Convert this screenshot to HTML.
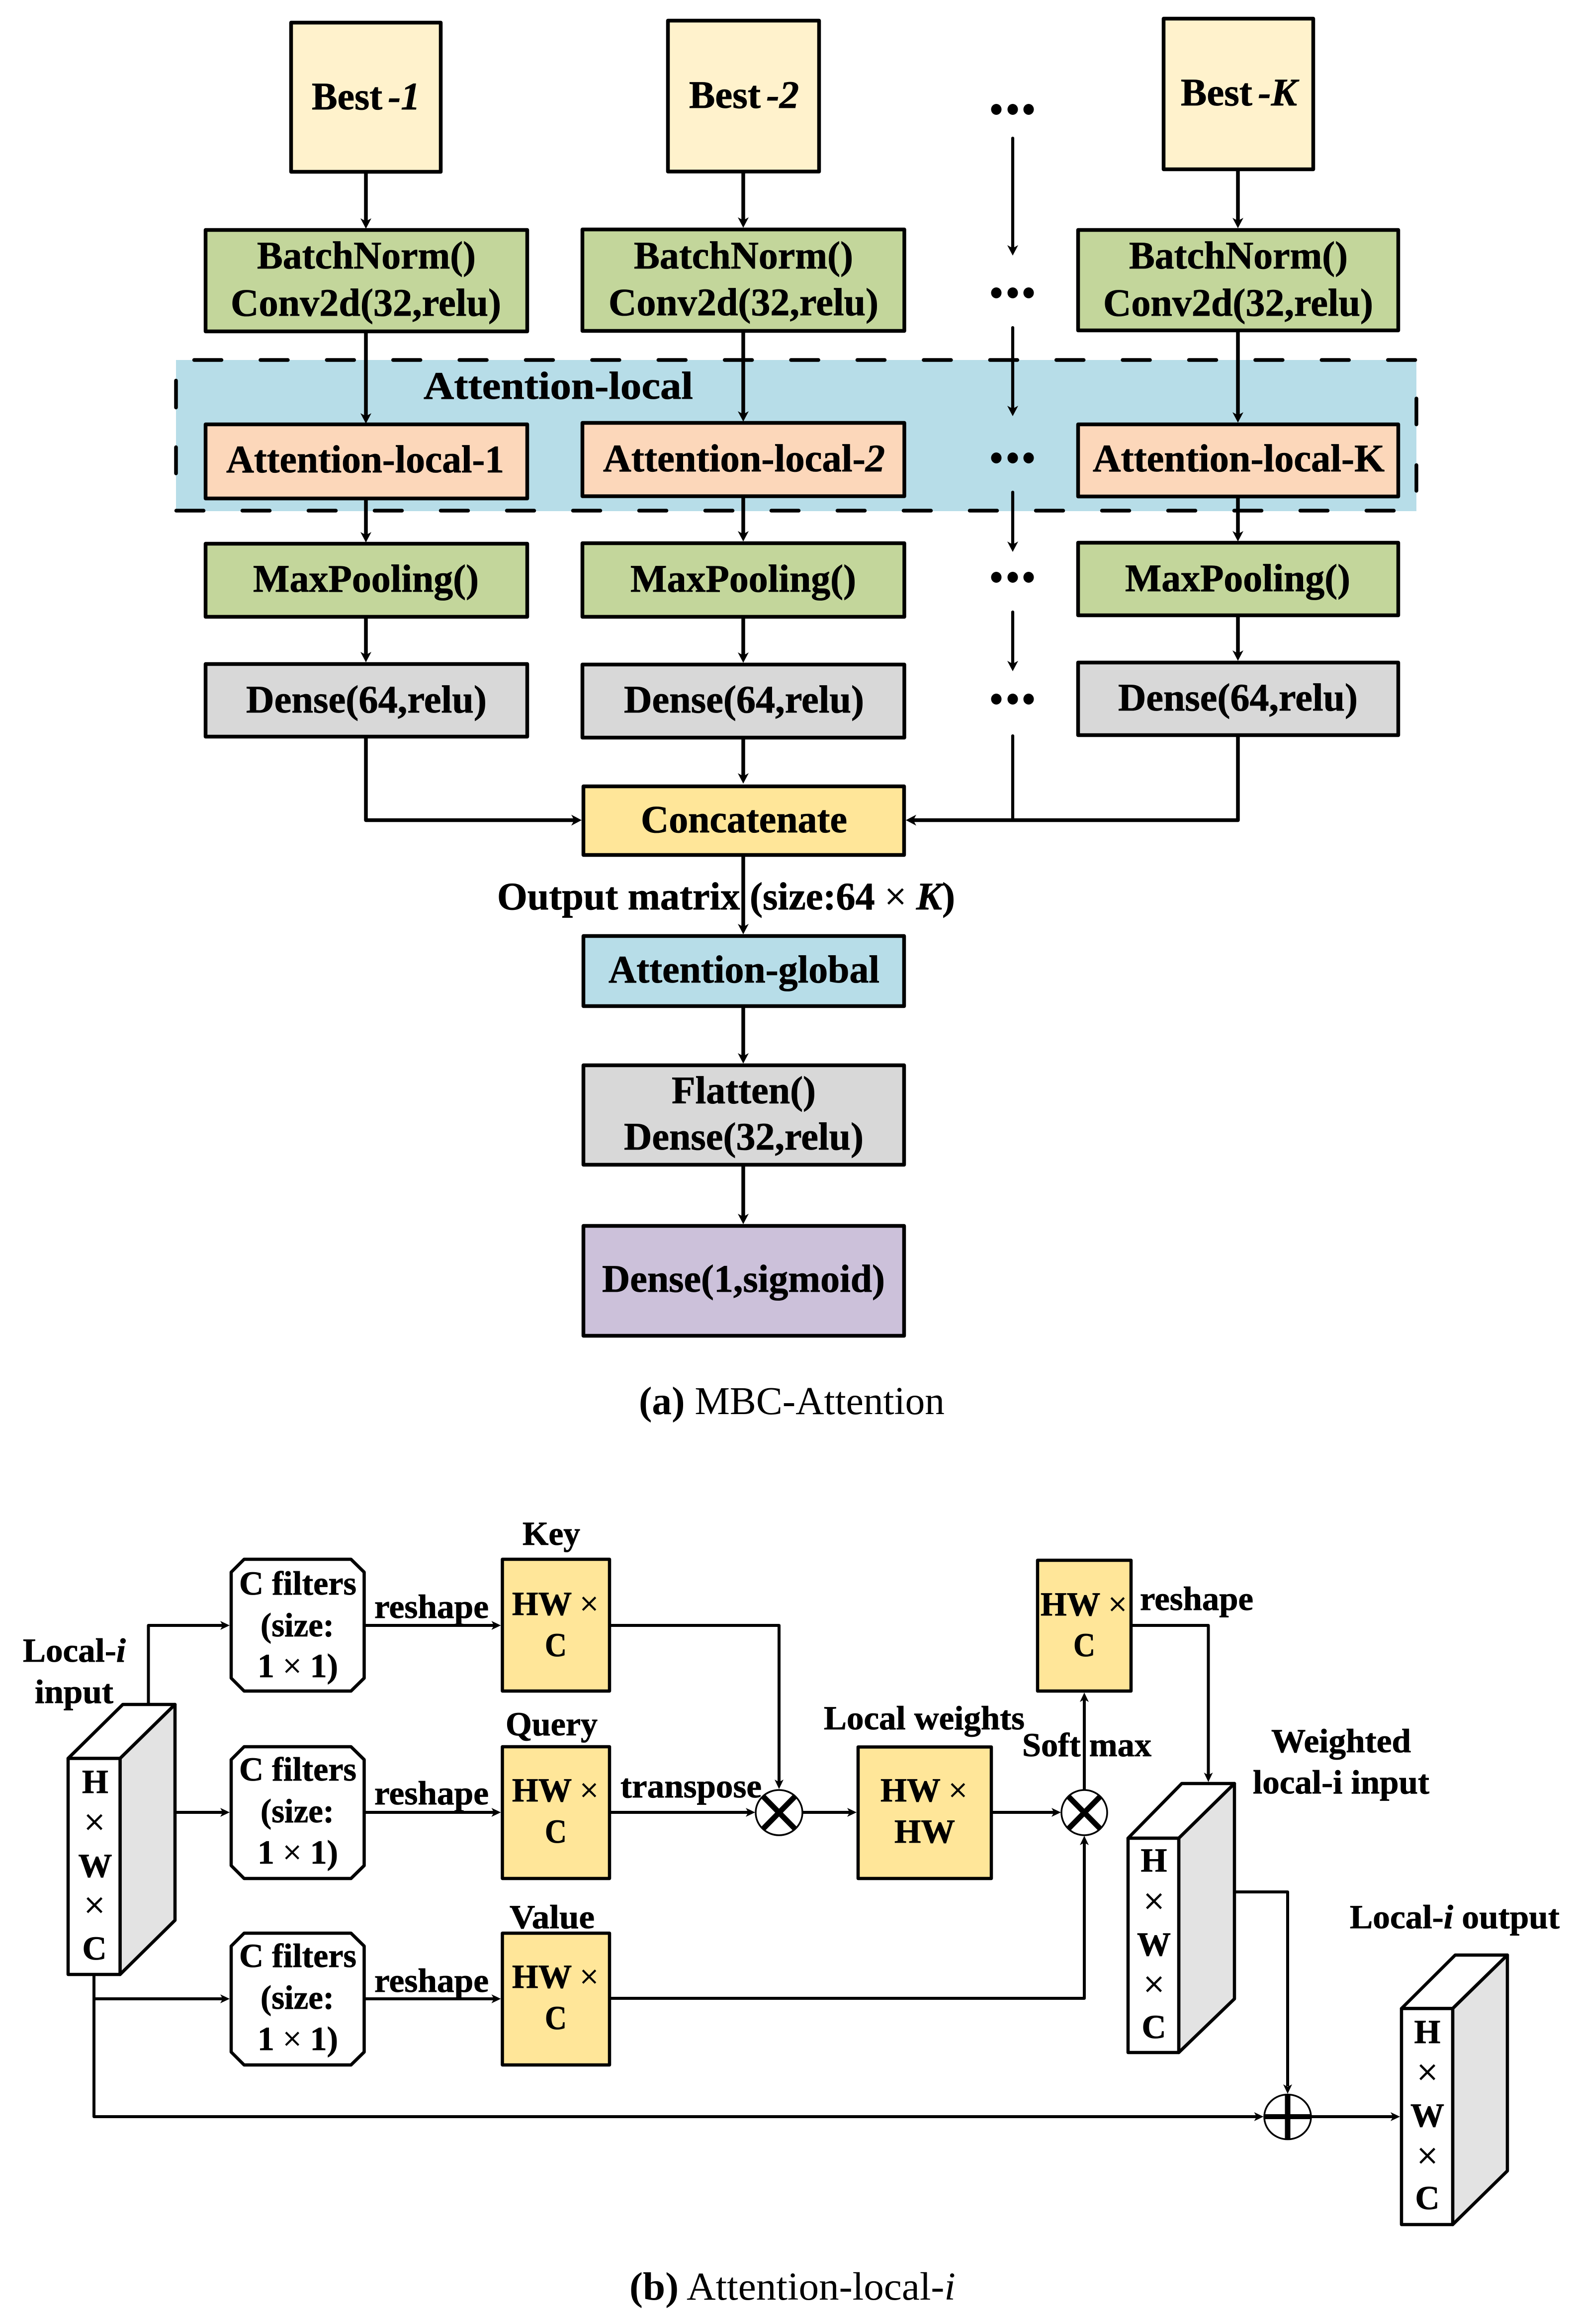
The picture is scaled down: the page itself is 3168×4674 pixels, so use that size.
<!DOCTYPE html>
<html><head><meta charset="utf-8"><title>MBC-Attention diagram</title>
<style>
html,body{margin:0;padding:0;background:#fff}
svg{display:block}
text{font-family:"Liberation Serif",serif;font-weight:bold;fill:#000;stroke:#000;stroke-width:.8}
.a{font-size:78px}.b{font-size:68px}.c{font-size:79px;font-weight:normal;stroke:none}
.n{font-weight:normal}.i{font-style:italic}
.x{font-weight:normal;font-size:76px}
.bx{stroke:#000;stroke-width:7.5;stroke-linejoin:round}
.by{stroke:#000;stroke-width:6.5;stroke-linejoin:round}
.l{fill:none;stroke:#000;stroke-width:7.5;stroke-linejoin:round}
.m{fill:none;stroke:#000;stroke-width:6;stroke-linejoin:round}
.d{fill:none;stroke:#000;stroke-width:7.5;stroke-linecap:round}
</style></head><body>
<svg xmlns="http://www.w3.org/2000/svg" width="3168" height="4674" viewBox="0 0 3168 4674">
<defs>
<polygon id="h" points="0,0 -11,-21 0,-15 11,-21"/>
<polygon id="s" points="0,0 -9,-19 0,-14 9,-19"/>
</defs>
<rect width="3168" height="4674" fill="#fff"/>

<!-- band -->
<rect x="354" y="724" width="2495" height="304" fill="#b7dde8"/>

<!-- part a connectors -->
<path class="l" d="M736,349V445M736,668V838M736,1005V1077M736,1244V1318M736,1485V1649.5H1156"/>
<path class="l" d="M1495,348V444M1495,669V833M1495,1001V1075M1495,1244V1319M1495,1487V1562"/>
<path class="l" d="M2490,344V445M2490,668V836M2490,1002V1075M2490,1241V1315M2490,1482V1649.5H1836"/>
<path class="l" d="M1495,1723V1865M1495,2027V2125M1495,2346V2448"/>
<g transform="translate(736,460)"><use href="#h"/></g>
<g transform="translate(736,852)"><use href="#h"/></g>
<g transform="translate(736,1091)"><use href="#h"/></g>
<g transform="translate(736,1332)"><use href="#h"/></g>
<g transform="translate(1170,1649.5) rotate(-90)"><use href="#h"/></g>
<g transform="translate(1495,458)"><use href="#h"/></g>
<g transform="translate(1495,848)"><use href="#h"/></g>
<g transform="translate(1495,1089)"><use href="#h"/></g>
<g transform="translate(1495,1333)"><use href="#h"/></g>
<g transform="translate(1495,1576)"><use href="#h"/></g>
<g transform="translate(2490,459)"><use href="#h"/></g>
<g transform="translate(2490,850)"><use href="#h"/></g>
<g transform="translate(2490,1089)"><use href="#h"/></g>
<g transform="translate(2490,1329)"><use href="#h"/></g>
<g transform="translate(1822,1649.5) rotate(90)"><use href="#h"/></g>
<g transform="translate(1495,1879)"><use href="#h"/></g>
<g transform="translate(1495,2139)"><use href="#h"/></g>
<g transform="translate(1495,2462)"><use href="#h"/></g>

<!-- dots column -->
<path d="M2037,278V500M2037,659V823M2037,990V1096M2037,1231V1335M2037,1480V1649" fill="none" stroke="#000" stroke-width="6.2" stroke-linecap="round"/>
<g transform="translate(2037,514)"><use href="#h"/></g>
<g transform="translate(2037,837)"><use href="#h"/></g>
<g transform="translate(2037,1110)"><use href="#h"/></g>
<g transform="translate(2037,1350)"><use href="#h"/></g>
<g fill="#000">
<ellipse cx="2004" cy="220" rx="10.5" ry="11"/><ellipse cx="2037" cy="220" rx="10.5" ry="11"/><ellipse cx="2069" cy="220" rx="10.5" ry="11"/>
<ellipse cx="2004" cy="589" rx="10.5" ry="11"/><ellipse cx="2037" cy="589" rx="10.5" ry="11"/><ellipse cx="2069" cy="589" rx="10.5" ry="11"/>
<ellipse cx="2004" cy="921" rx="10.5" ry="11"/><ellipse cx="2037" cy="921" rx="10.5" ry="11"/><ellipse cx="2069" cy="921" rx="10.5" ry="11"/>
<ellipse cx="2004" cy="1161" rx="10.5" ry="11"/><ellipse cx="2037" cy="1161" rx="10.5" ry="11"/><ellipse cx="2069" cy="1161" rx="10.5" ry="11"/>
<ellipse cx="2004" cy="1406" rx="10.5" ry="11"/><ellipse cx="2037" cy="1406" rx="10.5" ry="11"/><ellipse cx="2069" cy="1406" rx="10.5" ry="11"/>
</g>

<!-- dashed border -->
<path class="d" stroke-dasharray="55 78.4" d="M390.5,724H2850"/>
<path class="d" stroke-dasharray="55 78" d="M354.5,1027H2812"/>
<path class="d" stroke-dasharray="54 80" d="M354,765.5V952"/>
<path class="d" stroke-dasharray="52 82" d="M2849,801.5V987"/>

<!-- part a boxes -->
<g class="bx">
<rect x="585.5" y="45.5" width="301" height="300" fill="#fff2cc"/>
<rect x="1343.5" y="41.5" width="304" height="303.5" fill="#fff2cc"/>
<rect x="2340.5" y="37.5" width="301" height="303" fill="#fff2cc"/>
<rect x="413.5" y="462.5" width="647" height="204" fill="#c3d69b"/>
<rect x="1171.5" y="461.5" width="647.5" height="204" fill="#c3d69b"/>
<rect x="2168.5" y="462.5" width="644" height="202" fill="#c3d69b"/>
<rect x="413.5" y="853.5" width="647" height="149" fill="#fcd7ba"/>
<rect x="1171.5" y="850.5" width="647.5" height="147.5" fill="#fcd7ba"/>
<rect x="2168.5" y="853.5" width="644" height="145" fill="#fcd7ba"/>
<rect x="413.5" y="1093.5" width="647" height="147" fill="#c3d69b"/>
<rect x="1171.5" y="1092.5" width="647.5" height="148" fill="#c3d69b"/>
<rect x="2168.5" y="1091.5" width="644" height="146" fill="#c3d69b"/>
<rect x="413.5" y="1335.5" width="647" height="146" fill="#d8d8d8"/>
<rect x="1171.5" y="1336.5" width="647.5" height="147" fill="#d8d8d8"/>
<rect x="2168.5" y="1332.5" width="644" height="146" fill="#d8d8d8"/>
<rect x="1173.5" y="1581.5" width="645" height="138" fill="#ffe699"/>
<rect x="1173.5" y="1882.5" width="645" height="141" fill="#b7dde8"/>
<rect x="1173.5" y="2142.5" width="645" height="200" fill="#d8d8d8"/>
<rect x="1173.5" y="2465.5" width="645" height="221" fill="#ccc1da"/>
</g>

<!-- part a text -->
<g class="a" style="font-size:78px">
<text x="627" y="220" textLength="218" lengthAdjust="spacingAndGlyphs">Best <tspan class="i" dx="-8">-1</tspan></text>
<text x="1386" y="217" textLength="221" lengthAdjust="spacingAndGlyphs">Best <tspan class="i" dx="-8">-2</tspan></text>
<text x="2375" y="212" textLength="234" lengthAdjust="spacingAndGlyphs">Best <tspan class="i" dx="-8">-K</tspan></text>
<text x="517" y="540" textLength="440" lengthAdjust="spacingAndGlyphs">BatchNorm()</text>
<text x="464" y="635" textLength="544" lengthAdjust="spacingAndGlyphs">Conv2d(32,relu)</text>
<text x="1275" y="540" textLength="441" lengthAdjust="spacingAndGlyphs">BatchNorm()</text>
<text x="1224" y="634" textLength="543" lengthAdjust="spacingAndGlyphs">Conv2d(32,relu)</text>
<text x="2271" y="540" textLength="440" lengthAdjust="spacingAndGlyphs">BatchNorm()</text>
<text x="2219" y="635" textLength="543" lengthAdjust="spacingAndGlyphs">Conv2d(32,relu)</text>
<text x="852" y="802" textLength="542" lengthAdjust="spacingAndGlyphs">Attention-local</text>
<text x="455" y="950" textLength="559" lengthAdjust="spacingAndGlyphs">Attention-local-1</text>
<text x="1213" y="948" textLength="567" lengthAdjust="spacingAndGlyphs">Attention-local-<tspan class="i">2</tspan></text>
<text x="2198" y="948" textLength="587" lengthAdjust="spacingAndGlyphs">Attention-local-K</text>
<text x="509" y="1190" textLength="454" lengthAdjust="spacingAndGlyphs">MaxPooling()</text>
<text x="1268" y="1190" textLength="454" lengthAdjust="spacingAndGlyphs">MaxPooling()</text>
<text x="2263" y="1189" textLength="453" lengthAdjust="spacingAndGlyphs">MaxPooling()</text>
<text x="495" y="1433" textLength="484" lengthAdjust="spacingAndGlyphs">Dense(64,relu)</text>
<text x="1255" y="1433" textLength="483" lengthAdjust="spacingAndGlyphs">Dense(64,relu)</text>
<text x="2249" y="1429" textLength="482" lengthAdjust="spacingAndGlyphs">Dense(64,relu)</text>
<text x="1289" y="1674" textLength="415" lengthAdjust="spacingAndGlyphs">Concatenate</text>
<text x="1000" y="1829" textLength="921" lengthAdjust="spacingAndGlyphs">Output matrix (size:64 <tspan class="n">×</tspan> <tspan class="i">K</tspan>)</text>
<text x="1224" y="1976" textLength="545" lengthAdjust="spacingAndGlyphs">Attention-global</text>
<text x="1351" y="2219" textLength="290" lengthAdjust="spacingAndGlyphs">Flatten()</text>
<text x="1255" y="2312" textLength="482" lengthAdjust="spacingAndGlyphs">Dense(32,relu)</text>
<text x="1211" y="2598" textLength="569" lengthAdjust="spacingAndGlyphs">Dense(1,sigmoid)</text>
</g>
<text class="c" x="1285" y="2844" textLength="615" lengthAdjust="spacingAndGlyphs"><tspan style="font-weight:bold">(a)</tspan> MBC-Attention</text>

<!-- part b connectors -->
<g class="m">
<path d="M298.5,3428V3269H448"/>
<path d="M355,3645H448"/>
<path d="M189,3974V4257H2528"/>
<path d="M189,4020H448"/>
<path d="M735,3269H994M735,3645H994M735,4020H994"/>
<path d="M1229,3269H1567V3584"/>
<path d="M1229,3645H1506"/>
<path d="M1614,3645H1710"/>
<path d="M1997,3645H2121"/>
<path d="M1229,4019H2181V3706"/>
<path d="M2181,3599V3418"/>
<path d="M2278,3269H2430.5V3570"/>
<path d="M2486,3805H2590V4196"/>
<path d="M2637,4257H2803"/>
</g>
<g>
<g transform="translate(462,3269) rotate(-90)"><use href="#s"/></g>
<g transform="translate(462,3645) rotate(-90)"><use href="#s"/></g>
<g transform="translate(462,4020) rotate(-90)"><use href="#s"/></g>
<g transform="translate(1007.5,3269) rotate(-90)"><use href="#s"/></g>
<g transform="translate(1007.5,3645) rotate(-90)"><use href="#s"/></g>
<g transform="translate(1007.5,4020) rotate(-90)"><use href="#s"/></g>
<g transform="translate(1567,3598)"><use href="#s"/></g>
<g transform="translate(1519,3645) rotate(-90)"><use href="#s"/></g>
<g transform="translate(1723,3645) rotate(-90)"><use href="#s"/></g>
<g transform="translate(2134,3645) rotate(-90)"><use href="#s"/></g>
<g transform="translate(2181,3692) rotate(180)"><use href="#s"/></g>
<g transform="translate(2181,3404) rotate(180)"><use href="#s"/></g>
<g transform="translate(2430.5,3584)"><use href="#s"/></g>
<g transform="translate(2590,4211)"><use href="#s"/></g>
<g transform="translate(2541.5,4257) rotate(-90)"><use href="#s"/></g>
<g transform="translate(2816,4257) rotate(-90)"><use href="#s"/></g>
</g>

<!-- part b boxes -->
<g class="by">
<polygon fill="#fff" points="491,3136 706,3136 732.5,3162 732.5,3375 706,3401 491,3401 465,3375 465,3162"/>
<polygon fill="#fff" points="491,3513 706,3513 732.5,3539 732.5,3752 706,3778 491,3778 465,3752 465,3539"/>
<polygon fill="#fff" points="491,3888 706,3888 732.5,3914 732.5,4127 706,4153 491,4153 465,4127 465,3914"/>
<rect x="1010.5" y="3136" width="215.5" height="265" fill="#ffe699"/>
<rect x="1010.5" y="3513" width="215.5" height="265" fill="#ffe699"/>
<rect x="1010.5" y="3888" width="215.5" height="265" fill="#ffe699"/>
<rect x="1726" y="3513.5" width="268" height="264.5" fill="#ffe699"/>
<rect x="2087" y="3138" width="188" height="263" fill="#ffe699"/>
<!-- cuboid 1 -->
<polygon fill="#fff" points="137,3536.5 247,3428 352,3428 241.5,3536.5"/>
<polygon fill="#e3e3e3" points="241.5,3536.5 352,3428 352,3862 241.5,3971"/>
<rect x="137" y="3536.5" width="104.5" height="434.5" fill="#fff"/>
<!-- cuboid 2 -->
<polygon fill="#fff" points="2269,3697 2377,3587 2483,3587 2371,3697"/>
<polygon fill="#e3e3e3" points="2371,3697 2483,3587 2483,4020 2371,4128"/>
<rect x="2269" y="3697" width="102" height="431" fill="#fff"/>
<!-- cuboid 3 -->
<polygon fill="#fff" points="2819,4039.5 2927,3932 3032,3932 2922,4039.5"/>
<polygon fill="#e3e3e3" points="2922,4039.5 3032,3932 3032,4366 2922,4474"/>
<rect x="2819" y="4039.5" width="103" height="434.5" fill="#fff"/>
</g>

<!-- operators -->
<ellipse cx="1567" cy="3645.5" rx="47" ry="45.5" fill="#fff" stroke="#000" stroke-width="3.5"/>
<path d="M1535,3613L1599,3678M1599,3613L1535,3678" stroke="#000" stroke-width="11"/>
<ellipse cx="2181" cy="3645.5" rx="46" ry="45.5" fill="#fff" stroke="#000" stroke-width="3.5"/>
<path d="M2149,3613L2213,3678M2213,3613L2149,3678" stroke="#000" stroke-width="11"/>
<ellipse cx="2590" cy="4257.5" rx="47" ry="45" fill="#fff" stroke="#000" stroke-width="3.5"/>
<path d="M2590,4212V4303" stroke="#000" stroke-width="11"/>
<path d="M2542,4257H2638" stroke="#000" stroke-width="10"/>

<!-- part b text -->
<g style="font-size:68px">
<text x="46" y="3342" textLength="207" lengthAdjust="spacingAndGlyphs">Local-<tspan class="i">i</tspan></text>
<text x="70" y="3425" textLength="158" lengthAdjust="spacingAndGlyphs">input</text>

<text x="481" y="3207" textLength="236" lengthAdjust="spacingAndGlyphs">C filters</text>
<text x="524" y="3291" textLength="148" lengthAdjust="spacingAndGlyphs">(size:</text>
<text x="518" y="3373" textLength="162" lengthAdjust="spacingAndGlyphs">1 <tspan class="n">×</tspan> 1)</text>
<text x="481" y="3581" textLength="236" lengthAdjust="spacingAndGlyphs">C filters</text>
<text x="524" y="3665" textLength="148" lengthAdjust="spacingAndGlyphs">(size:</text>
<text x="518" y="3748" textLength="162" lengthAdjust="spacingAndGlyphs">1 <tspan class="n">×</tspan> 1)</text>
<text x="481" y="3956" textLength="236" lengthAdjust="spacingAndGlyphs">C filters</text>
<text x="524" y="4040" textLength="148" lengthAdjust="spacingAndGlyphs">(size:</text>
<text x="518" y="4123" textLength="162" lengthAdjust="spacingAndGlyphs">1 <tspan class="n">×</tspan> 1)</text>

<text x="753" y="3254" textLength="230" lengthAdjust="spacingAndGlyphs">reshape</text>
<text x="753" y="3629" textLength="230" lengthAdjust="spacingAndGlyphs">reshape</text>
<text x="753" y="4006" textLength="230" lengthAdjust="spacingAndGlyphs">reshape</text>

<text x="1051" y="3107" textLength="116" lengthAdjust="spacingAndGlyphs">Key</text>
<text x="1017" y="3490" textLength="185" lengthAdjust="spacingAndGlyphs">Query</text>
<text x="1025" y="3878" textLength="171" lengthAdjust="spacingAndGlyphs">Value</text>

<text x="1030" y="3248" textLength="174" lengthAdjust="spacingAndGlyphs">HW <tspan class="n">×</tspan></text>
<text x="1096" y="3331" textLength="44" lengthAdjust="spacingAndGlyphs">C</text>
<text x="1030" y="3623" textLength="174" lengthAdjust="spacingAndGlyphs">HW <tspan class="n">×</tspan></text>
<text x="1096" y="3706" textLength="44" lengthAdjust="spacingAndGlyphs">C</text>
<text x="1030" y="3998" textLength="174" lengthAdjust="spacingAndGlyphs">HW <tspan class="n">×</tspan></text>
<text x="1096" y="4081" textLength="44" lengthAdjust="spacingAndGlyphs">C</text>

<text x="1248" y="3615" textLength="284" lengthAdjust="spacingAndGlyphs">transpose</text>
<text x="1657" y="3478" textLength="404" lengthAdjust="spacingAndGlyphs">Local weights</text>
<text x="1771" y="3623" textLength="175" lengthAdjust="spacingAndGlyphs">HW <tspan class="n">×</tspan></text>
<text x="1799" y="3706" textLength="122" lengthAdjust="spacingAndGlyphs">HW</text>
<text x="2056" y="3532" textLength="260" lengthAdjust="spacingAndGlyphs">Soft max</text>
<text x="2093" y="3249" textLength="174" lengthAdjust="spacingAndGlyphs">HW <tspan class="n">×</tspan></text>
<text x="2159" y="3331" textLength="44" lengthAdjust="spacingAndGlyphs">C</text>
<text x="2293" y="3238" textLength="228" lengthAdjust="spacingAndGlyphs">reshape</text>
<text x="2557" y="3524" textLength="281" lengthAdjust="spacingAndGlyphs">Weighted</text>
<text x="2520" y="3607" textLength="355" lengthAdjust="spacingAndGlyphs">local-i input</text>
<text x="2715" y="3878" textLength="422" lengthAdjust="spacingAndGlyphs">Local-<tspan class="i">i</tspan> output</text>

<!-- cuboid labels -->
<text x="191.5" y="3606" text-anchor="middle">H</text>
<text x="190" y="3690" text-anchor="middle" class="x">×</text>
<text x="191.5" y="3775" text-anchor="middle">W</text>
<text x="190" y="3857" text-anchor="middle" class="x">×</text>
<text x="190" y="3941" text-anchor="middle">C</text>

<text x="2321" y="3764" text-anchor="middle">H</text>
<text x="2321" y="3849" text-anchor="middle" class="x">×</text>
<text x="2321" y="3933" text-anchor="middle">W</text>
<text x="2321" y="4016" text-anchor="middle" class="x">×</text>
<text x="2321" y="4099" text-anchor="middle">C</text>

<text x="2871" y="4109" text-anchor="middle">H</text>
<text x="2871" y="4193" text-anchor="middle" class="x">×</text>
<text x="2871" y="4277" text-anchor="middle">W</text>
<text x="2871" y="4361" text-anchor="middle" class="x">×</text>
<text x="2871" y="4443" text-anchor="middle">C</text>
</g>
<text class="c" x="1266" y="4625" textLength="656" lengthAdjust="spacingAndGlyphs"><tspan style="font-weight:bold">(b)</tspan> Attention-local-<tspan class="i">i</tspan></text>
</svg>
</body></html>
